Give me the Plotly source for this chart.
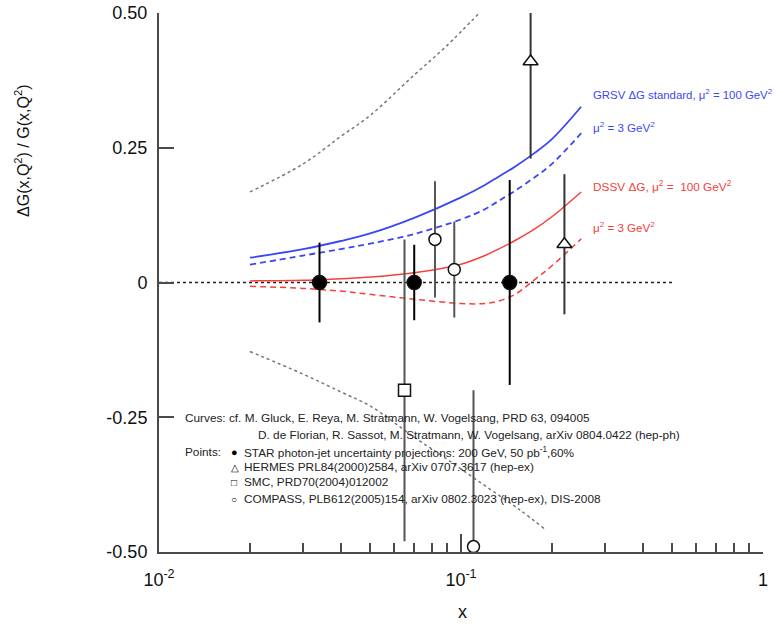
import plotly.graph_objects as go

# ---- curves: Delta G / G versus x ----
x_curve = [0.02, 0.03, 0.04, 0.05, 0.07, 0.1, 0.12, 0.132, 0.15, 0.175, 0.2, 0.25]
grsv_mu100 = [0.046, 0.062, 0.077, 0.091, 0.120, 0.158, 0.181, 0.195, 0.214, 0.240, 0.266, 0.326]
grsv_mu3 = [0.033, 0.050, 0.062, 0.072, 0.090, 0.117, 0.136, 0.150, 0.169, 0.195, 0.220, 0.277]
dssv_mu100 = [0.003, 0.004, 0.007, 0.010, 0.018, 0.034, 0.050, 0.061, 0.077, 0.099, 0.122, 0.168]
dssv_mu3 = [-0.007, -0.011, -0.016, -0.022, -0.031, -0.039, -0.039, -0.035, -0.023, 0.005, 0.031, 0.081]

# STAR projected uncertainty envelope
x_band_up = [0.02, 0.03, 0.04, 0.05, 0.07, 0.09, 0.115]
band_up = [0.168, 0.220, 0.271, 0.310, 0.385, 0.440, 0.500]
x_band_lo = [0.02, 0.03, 0.04, 0.05, 0.07, 0.09, 0.12, 0.155, 0.19]
band_lo = [-0.128, -0.170, -0.203, -0.229, -0.287, -0.328, -0.377, -0.420, -0.458]

x_zero = [0.01, 0.5]
y_zero = [0.0, 0.0]

# ---- measurements ----
star_x = [0.034, 0.070, 0.145]
star_y = [0.0, 0.0, 0.0]
star_err = [0.074, 0.070, 0.190]

hermes_x = [0.17, 0.22]
hermes_y = [0.41, 0.071]
hermes_err = [0.18, 0.13]

smc_x = [0.065]
smc_y = [-0.20]
smc_err = [0.28]

compass_x = [0.082, 0.095, 0.11]
compass_y = [0.08, 0.024, -0.49]
compass_err = [0.108, 0.089, 0.29]

x_ticks = [0.01, 0.1, 1]
x_ticktext = ["10<sup>-2</sup>", "10<sup>-1</sup>", "1"]
x_minor = [0.02, 0.03, 0.04, 0.05, 0.06, 0.07, 0.08, 0.09,
           0.2, 0.3, 0.4, 0.5, 0.6, 0.7, 0.8, 0.9]
y_ticks = [-0.5, -0.25, 0.0, 0.25, 0.5]
y_ticktext = ["-0.50", "-0.25", "0", "0.25", "0.50"]

FONT = "Liberation Sans, Arial, Helvetica, sans-serif"
BLUE = "#3a47f5"
RED = "#f5403a"
AXIS = "#4a4a4a"

W, H = 775, 626
L, R, T, B = 159, 763, 13, 552


def px(xp):
    return (xp - L) / (R - L)


def py(yp):
    return (B - yp) / (B - T)


fig = go.Figure()

fig.add_trace(go.Scatter(x=x_zero, y=y_zero, mode="lines",
                         line=dict(color="#222", width=1.5, dash="dot")))
fig.add_trace(go.Scatter(x=x_band_up, y=band_up, mode="lines", line_shape="spline",
                         line=dict(color="#777", width=1.5, dash="dot")))
fig.add_trace(go.Scatter(x=x_band_lo, y=band_lo, mode="lines", line_shape="spline",
                         line=dict(color="#777", width=1.5, dash="dot")))

fig.add_trace(go.Scatter(x=x_curve, y=grsv_mu100, mode="lines", line_shape="spline",
                         line=dict(color=BLUE, width=1.8)))
fig.add_trace(go.Scatter(x=x_curve, y=grsv_mu3, mode="lines", line_shape="spline",
                         line=dict(color=BLUE, width=1.8, dash="6px,4px")))
fig.add_trace(go.Scatter(x=x_curve, y=dssv_mu100, mode="lines", line_shape="spline",
                         line=dict(color=RED, width=1.5)))
fig.add_trace(go.Scatter(x=x_curve, y=dssv_mu3, mode="lines", line_shape="spline",
                         line=dict(color=RED, width=1.5, dash="6px,4px")))


def points(xs, ys, errs, symbol, size, fill, bar_color):
    return go.Scatter(
        x=xs, y=ys, mode="markers",
        error_y=dict(type="data", array=errs, visible=True,
                     color=bar_color, thickness=2, width=0),
        marker=dict(symbol=symbol, size=size, color=fill,
                    line=dict(color="#111", width=1.5)),
    )


fig.add_trace(points(smc_x, smc_y, smc_err, "square", 12, "white", "#555"))
fig.add_trace(points(compass_x, compass_y, compass_err, "circle", 12, "white", "#555"))
fig.add_trace(points(hermes_x, hermes_y, hermes_err, "triangle-up", 13, "white", "#333"))
fig.add_trace(points(star_x, star_y, star_err, "circle", 14, "black", "#000"))

annotations = []


def note(xp, yp, text, size=11.8, color="#222", anchor="left"):
    annotations.append(dict(x=px(xp), y=py(yp), xref="paper", yref="paper",
                            text=text, showarrow=False, xanchor=anchor,
                            yanchor="middle", font=dict(family=FONT, size=size, color=color)))


# curve labels
note(591, 94, "GRSV ΔG standard, μ<sup>2</sup> = 100 GeV<sup>2</sup>", 11.4, BLUE)
note(591, 127, "μ<sup>2</sup> = 3 GeV<sup>2</sup>", 11.6, BLUE)
note(591, 187, "DSSV ΔG, μ<sup>2</sup> =  100 GeV<sup>2</sup>", 11.8, RED)
note(591, 227, "μ<sup>2</sup> = 3 GeV<sup>2</sup>", 11.6, RED)

# references block
note(183, 418, "Curves: cf. M. Gluck, E. Reya, M. Stratmann, W. Vogelsang, PRD 63, 094005")
note(256, 435, "D. de Florian, R. Sassot, M. Stratmann, W. Vogelsang, arXiv 0804.0422 (hep-ph)")
note(183, 452, "Points:")
note(229, 452, "●", 11, "#000")
note(242, 452, "STAR photon-jet uncertainty projections: 200 GeV, 50 pb<sup>-1</sup>,60%")
note(229, 467, "△", 10, "#000")
note(242, 467, "HERMES PRL84(2000)2584, arXiv 0707.3617 (hep-ex)")
note(229, 482, "□", 10, "#000")
note(242, 482, "SMC, PRD70(2004)012002")
note(229, 499, "○", 10, "#000")
note(242, 499, "COMPASS, PLB612(2005)154, arXiv 0802.3023 (hep-ex), DIS-2008")

# axis titles
annotations.append(dict(x=px(22), y=py(151), xref="paper", yref="paper",
                        text="ΔG(x,Q<sup>2</sup>) / G(x,Q<sup>2</sup>)", textangle=-90,
                        showarrow=False, xanchor="center", yanchor="middle",
                        font=dict(family=FONT, size=16, color="#111")))
annotations.append(dict(x=px(462), y=py(612), xref="paper", yref="paper",
                        text="x", showarrow=False, xanchor="center", yanchor="middle",
                        font=dict(family=FONT, size=18, color="#111")))

fig.update_layout(
    width=W, height=H, autosize=False,
    margin=dict(l=L, r=W - R, t=T, b=H - B, pad=0, autoexpand=False),
    paper_bgcolor="white", plot_bgcolor="white",
    showlegend=False,
    annotations=annotations,
    font=dict(family=FONT, color="#111"),
    xaxis=dict(
        type="log", range=[-2, 0], showgrid=False, zeroline=False, automargin=False,
        showline=True, linecolor=AXIS, linewidth=2, mirror=False,
        tickmode="array", tickvals=x_ticks, ticktext=x_ticktext,
        ticks="inside", ticklen=18, tickwidth=2, tickcolor=AXIS,
        ticklabelstandoff=10,
        tickfont=dict(family=FONT, size=18, color="#111"),
        minor=dict(tickmode="array", tickvals=x_minor, ticks="inside",
                   ticklen=9, tickwidth=1.5, tickcolor=AXIS, showgrid=False),
    ),
    yaxis=dict(
        range=[-0.5, 0.5], showgrid=False, zeroline=False, automargin=False,
        showline=True, linecolor=AXIS, linewidth=2, mirror=False,
        tickmode="array", tickvals=y_ticks, ticktext=y_ticktext,
        ticks="inside", ticklen=15, tickwidth=2, tickcolor=AXIS,
        ticklabelstandoff=6,
        tickfont=dict(family=FONT, size=18, color="#111"),
    ),
)

fig.write_html("out.html")
